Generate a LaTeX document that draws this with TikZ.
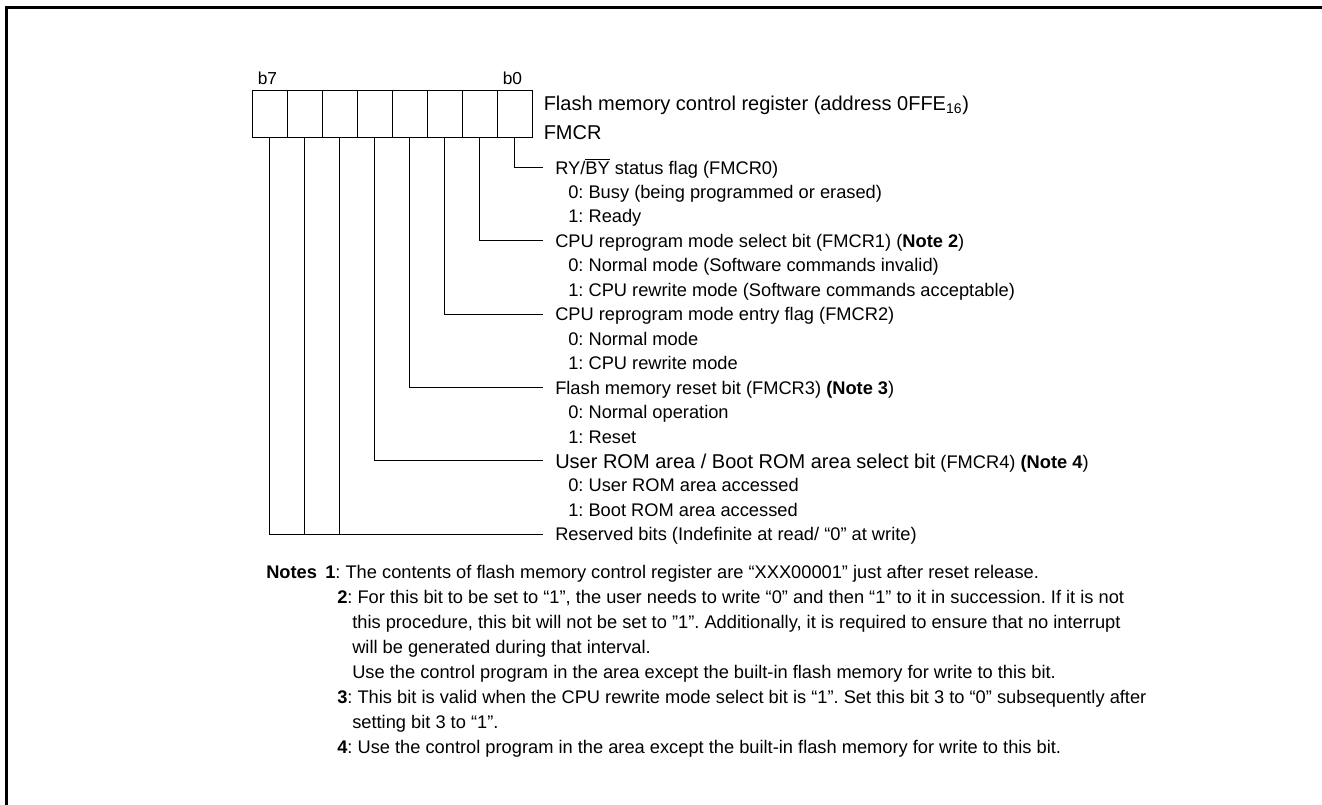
\documentclass[tikz,border=0pt]{standalone}
\usepackage{fontspec}
\setmainfont{Liberation Sans}
\usetikzlibrary{positioning}
\frenchspacing

\tikzset{
  regcell/.style={draw, line width=0.75pt, minimum width=26.25pt, minimum height=35.25pt, inner sep=0pt},
  bitno/.style={inner sep=0pt, font=\fontsize{13}{15}\selectfont},
  regtitle/.style={anchor=west, inner sep=0pt, text height=10.7pt, text depth=0pt, font=\fontsize{15}{18}\selectfont},
  fieldname/.style={anchor=west, inner xsep=9pt, inner ysep=0pt, text height=9.8pt, text depth=0pt, font=\fontsize{13.7}{16}\selectfont},
  fieldval/.style={anchor=west, inner sep=0pt, text height=9.8pt, text depth=0pt, font=\fontsize{13.7}{16}\selectfont},
  link/.style={line width=0.75pt},
  frame/.style={line width=2pt}
}

\begin{document}
\begin{tikzpicture}[x=0.75pt,y=-0.75pt]
    \useasboundingbox (0,0) rectangle (1322,805);
    \draw[frame] (1322,7.3) -- (6.3,7.3) -- (6.3,805);

    % register cells, b0 on the right
    \foreach \i in {0,...,7}
        \node[regcell] (c\i) at ({514.5-35*\i},114.5) {};
    \node[bitno, above right=4.5pt and 4.5pt of c7.north west] (b7) {b7};
    \node[bitno, above right=4.5pt and 4.5pt of c0.north west] (b0) {b0};
    \node[regtitle, right=8.25pt of c0.east, yshift=8.6pt] (title) {Flash memory control register (address 0FFE\textsubscript{16})};
    \node[regtitle] (regname) at ([yshift=-21.75pt]title.west) {FMCR};

    % bit fields
    \node[fieldname] (f0) at (543,167.5) {RY/$\overline{\hbox{BY}}$ status flag (FMCR0)};
    \node[fieldval] (f0a) at (568,192) {0: Busy (being programmed or erased)};
    \node[fieldval] (f0b) at (568,216.4) {1: Ready};
    \node[fieldname] (f1) at (543,240.9) {CPU reprogram mode select bit (FMCR1) (\textbf{Note 2})};
    \node[fieldval] (f1a) at (568,265.3) {0: Normal mode (Software commands invalid)};
    \node[fieldval] (f1b) at (568,289.8) {1: CPU rewrite mode (Software commands acceptable)};
    \node[fieldname] (f2) at (543,314.2) {CPU reprogram mode entry flag (FMCR2)};
    \node[fieldval] (f2a) at (568,338.7) {0: Normal mode};
    \node[fieldval] (f2b) at (568,363.1) {1: CPU rewrite mode};
    \node[fieldname] (f3) at (543,387.6) {Flash memory reset bit (FMCR3) \textbf{(Note 3})};
    \node[fieldval] (f3a) at (568,412) {0: Normal operation};
    \node[fieldval] (f3b) at (568,436.5) {1: Reset};
    \node[fieldname, text height=10.7pt] (f4) at (543,460.9) {{\fontsize{15}{18}\selectfont User ROM area / Boot ROM area select bit} (FMCR4) \textbf{(Note 4})};
    \node[fieldval] (f4a) at (568,485.4) {0: User ROM area accessed};
    \node[fieldval] (f4b) at (568,509.8) {1: Boot ROM area accessed};
    \node[fieldname] (f5) at (543,534.3) {Reserved bits (Indefinite at read/ “0” at write)};

    \draw[link] (c0.south) |- (f0.west);
    \draw[link] (c1.south) |- (f1.west);
    \draw[link] (c2.south) |- (f2.west);
    \draw[link] (c3.south) |- (f3.west);
    \draw[link] (c4.south) |- (f4.west);
    \draw[link] (c7.south) |- (f5.west);
    \draw[link] (c6.south) -- (c6.south |- f5.west);
    \draw[link] (c5.south) -- (c5.south |- f5.west);

    % notes
    \node[fieldval] (notes) at (266,572) {\textbf{Notes}};
    \node[fieldval] (n1) at (325,572) {\textbf{1}: The contents of flash memory control register are “XXX00001” just after reset release.};
    \node[fieldval] (n2) at (337,597) {\textbf{2}: For this bit to be set to “1”, the user needs to write “0” and then “1” to it in succession. If it is not};
    \node[fieldval] (n2b) at (352,622) {this procedure, this bit will not be set to ”1”. Additionally, it is required to ensure that no interrupt};
    \node[fieldval] (n2c) at (352,647) {will be generated during that interval.};
    \node[fieldval] (n2d) at (352,672) {Use the control program in the area except the built-in flash memory for write to this bit.};
    \node[fieldval] (n3) at (337,697) {\textbf{3}: This bit is valid when the CPU rewrite mode select bit is “1”. Set this bit 3 to “0” subsequently after};
    \node[fieldval] (n3b) at (352,722) {setting bit 3 to “1”.};
    \node[fieldval] (n4) at (337,747) {\textbf{4}: Use the control program in the area except the built-in flash memory for write to this bit.};
\end{tikzpicture}
\end{document}
